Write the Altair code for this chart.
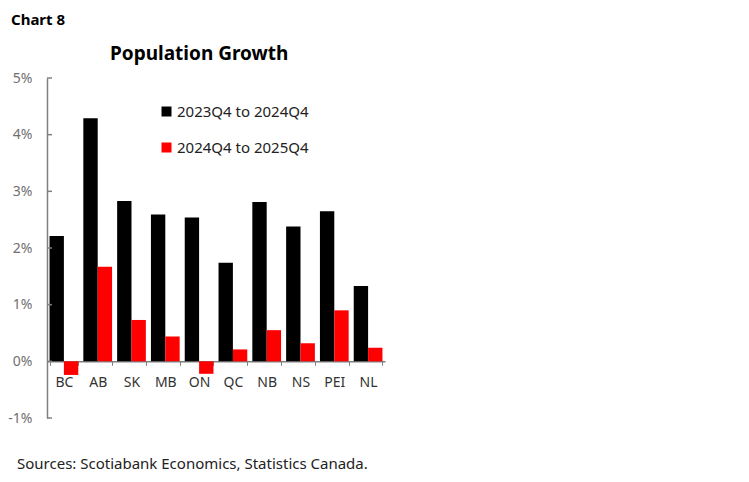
import altair as alt
import pandas as pd

provinces = ["BC", "AB", "SK", "MB", "ON", "QC", "NB", "NS", "PEI", "NL"]
series_names = ["2023Q4 to 2024Q4", "2024Q4 to 2025Q4"]
growth_2024 = [2.21, 4.29, 2.83, 2.59, 2.54, 1.74, 2.81, 2.38, 2.65, 1.33]
growth_2025 = [-0.24, 1.67, 0.73, 0.44, -0.22, 0.21, 0.55, 0.32, 0.90, 0.24]
y_ticks = [-1, 0, 1, 2, 3, 4, 5]
colors = ["#000000", "#FF0000"]

rows = []
for i, p in enumerate(provinces):
    rows.append({"prov": p, "series": series_names[0], "value": growth_2024[i]})
    rows.append({"prov": p, "series": series_names[1], "value": growth_2025[i]})
df = pd.DataFrame(rows)

W, H = 338, 340
FONT = "Noto Sans"

yscale = alt.Scale(domain=[-1, 5], nice=False, zero=False)

bars = alt.Chart(df).mark_bar().encode(
    x=alt.X("prov:N", sort=provinces, title=None,
            scale=alt.Scale(paddingInner=0.15, paddingOuter=0.075),
            axis=alt.Axis(orient="bottom", offset=-H / 6, labelAngle=0,
                          tickBand="extent", tickSize=4, tickColor="#808080",
                          domainColor="#808080", domainWidth=1.5,
                          labelFont=FONT, labelFontSize=14, labelColor="#333333",
                          labelPadding=10)),
    xOffset=alt.XOffset("series:N", sort=series_names),
    y=alt.Y("value:Q", scale=yscale, title=None,
            axis=alt.Axis(values=y_ticks, grid=False, ticks=False,
                          labelExpr="datum.value + '%'",
                          domainColor="#808080", domainWidth=1.5,
                          labelFont=FONT, labelFontSize=14, labelColor="#707070",
                          labelPadding=15)),
    color=alt.Color("series:N", sort=series_names,
                    scale=alt.Scale(domain=series_names, range=colors),
                    legend=alt.Legend(title=None, orient="none", legendX=112, legendY=26,
                                      symbolType="square", symbolSize=100,
                                      symbolStrokeWidth=0,
                                      labelFont=FONT, labelFontSize=15, labelColor="#222222",
                                      rowPadding=20, labelOffset=3)),
)

tick_df = pd.DataFrame({"t": y_ticks})
yticks = alt.Chart(tick_df).mark_rule(color="#808080", strokeWidth=1.5).encode(
    y=alt.Y("t:Q", scale=yscale),
    x=alt.value(0),
    x2=alt.value(5),
)

text_df = pd.DataFrame({"a": [0]})
chart_label = alt.Chart(text_df).mark_text(
    text="Chart 8", font=FONT, fontSize=15, fontWeight="bold", align="left",
    baseline="alphabetic", color="#000000"
).encode(x=alt.value(-36), y=alt.value(-53))

title = alt.Chart(text_df).mark_text(
    text="Population Growth", font=FONT, fontSize=19, fontWeight="bold", align="left",
    baseline="alphabetic", color="#000000"
).encode(x=alt.value(63), y=alt.value(-18))

source = alt.Chart(text_df).mark_text(
    text="Sources: Scotiabank Economics, Statistics Canada.", font=FONT, fontSize=15,
    align="left", baseline="alphabetic", color="#222222"
).encode(x=alt.value(-30), y=alt.value(391))

chart = alt.layer(bars, yticks, chart_label, title, source).properties(
    width=W, height=H,
    autosize=alt.AutoSizeParams(type="none"),
    padding={"left": 39, "top": 70, "right": 356, "bottom": 56},
).configure(background="white").configure_view(stroke=None)

chart.save("out.html", embed_options={"renderer": "svg", "actions": False})
